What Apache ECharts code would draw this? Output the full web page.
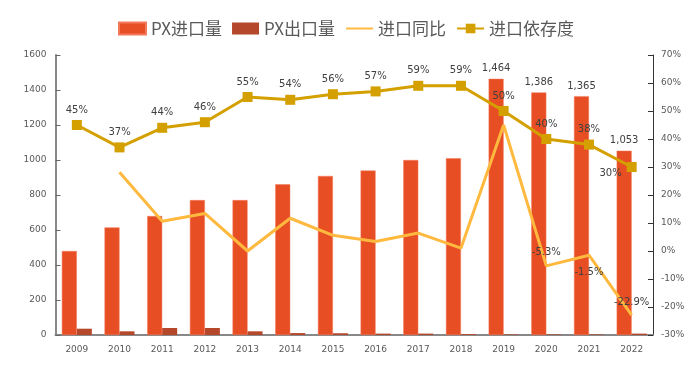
<!DOCTYPE html>
<html><head><meta charset="utf-8">
<script src="https://cdn.jsdelivr.net/npm/echarts@6/dist/echarts.min.js"></script>
<style>html,body{margin:0;padding:0;background:#fff}#c{width:700px;height:371px}</style>
</head><body><div id="c"></div>
<script>
const years = ['2009','2010','2011','2012','2013','2014','2015','2016','2017','2018','2019','2020','2021','2022'];
const importVol = [480, 615, 680, 771, 771, 861, 909, 940, 1000, 1010, 1464, 1386, 1365, 1053];
const exportVol = [36, 21, 40, 40, 21, 11, 10, 8, 8, 5, 3, 3, 3, 8];
const importYoY = [null, 28.1, 10.6, 13.4, 0.0, 11.7, 5.6, 3.4, 6.4, 1.0, 45.0, -5.3, -1.5, -22.9];
const dependency = [45, 37, 44, 46, 55, 54, 56, 57, 59, 59, 50, 40, 38, 30];
const leftTicks = [0, 200, 400, 600, 800, 1000, 1200, 1400, 1600];
const rightTicks = [-30, -20, -10, 0, 10, 20, 30, 40, 50, 60, 70];

const labelFont = {fontFamily: 'DejaVu Sans', fontSize: 10, color: '#404040'};
const axisFont = {fontFamily: 'DejaVu Sans', fontSize: 9, color: '#595959'};

const chart = echarts.init(document.getElementById('c'));
chart.setOption({
  animation: false,
  legend: {
    top: 15, left: 113, itemWidth: 27, itemHeight: 12, itemGap: 10,
    textStyle: {fontFamily: 'Noto Sans CJK SC', fontSize: 17, color: '#595959'},
    data: [
      {name: 'PX进口量', icon: 'rect'},
      {name: 'PX出口量', icon: 'rect'},
      {name: '进口同比', itemStyle: {color: 'rgba(0,0,0,0)', borderWidth: 0}},
      {name: '进口依存度'}
    ]
  },
  grid: {left: 55.5, right: 47, top: 55, bottom: 36},
  xAxis: {
    type: 'category', data: years,
    axisLine: {lineStyle: {color: '#888', width: 2}},
    axisTick: {inside: true, length: 5, lineStyle: {color: '#555'}},
    axisLabel: Object.assign({margin: 10}, axisFont)
  },
  yAxis: [{
    type: 'value', min: leftTicks[0], max: leftTicks[leftTicks.length - 1], interval: 200,
    axisLine: {show: true, lineStyle: {color: '#888', width: 2}},
    axisTick: {show: true, inside: true, length: 5, lineStyle: {color: '#666'}},
    splitLine: {show: false},
    axisLabel: Object.assign({margin: 9, formatter: v => String(v)}, axisFont)
  }, {
    type: 'value', min: rightTicks[0], max: rightTicks[rightTicks.length - 1], interval: 10,
    axisLine: {show: true, lineStyle: {color: '#333', width: 1}},
    axisTick: {show: true, inside: true, length: 5, lineStyle: {color: '#333'}},
    splitLine: {show: false},
    axisLabel: Object.assign({margin: 8, formatter: '{value}%'}, axisFont)
  }],
  series: [{
    name: 'PX进口量', type: 'bar', barWidth: 15, barGap: 0,
    itemStyle: {color: '#E84E24', borderColor: '#F27A5A', borderWidth: 0.5},
    data: importVol.map((v, i) => ({value: v, label: {show: i >= 10}})),
    label: Object.assign({position: 'top', distance: 5,
      formatter: p => Number(p.value).toLocaleString('en-US')}, labelFont)
  }, {
    name: 'PX出口量', type: 'bar', barWidth: 15,
    itemStyle: {color: '#B5472A'},
    data: exportVol
  }, {
    name: '进口同比', type: 'line', yAxisIndex: 1, symbol: 'circle', symbolSize: 0, showSymbol: true,
    lineStyle: {color: '#FFB93F', width: 3}, itemStyle: {color: '#FFB93F'},
    data: importYoY.map((v, i) => ({value: v, label: {show: i >= 11, position: i === 12 ? 'bottom' : 'top', distance: i === 12 ? 12 : 8}})),
    label: Object.assign({formatter: '{c}%'}, labelFont),
    z: 3
  }, {
    name: '进口依存度', type: 'line', yAxisIndex: 1, symbol: 'rect', symbolSize: 10,
    lineStyle: {color: '#D4A000', width: 3}, itemStyle: {color: '#D4A000'},
    data: dependency.map((v, i) => i === 13 ? {value: v, label: {position: 'left', offset: [0, 6]}} : v),
    label: Object.assign({show: true, position: 'top', distance: 5, formatter: '{c}%'}, labelFont),
    z: 4
  }]
});
</script></body></html>
